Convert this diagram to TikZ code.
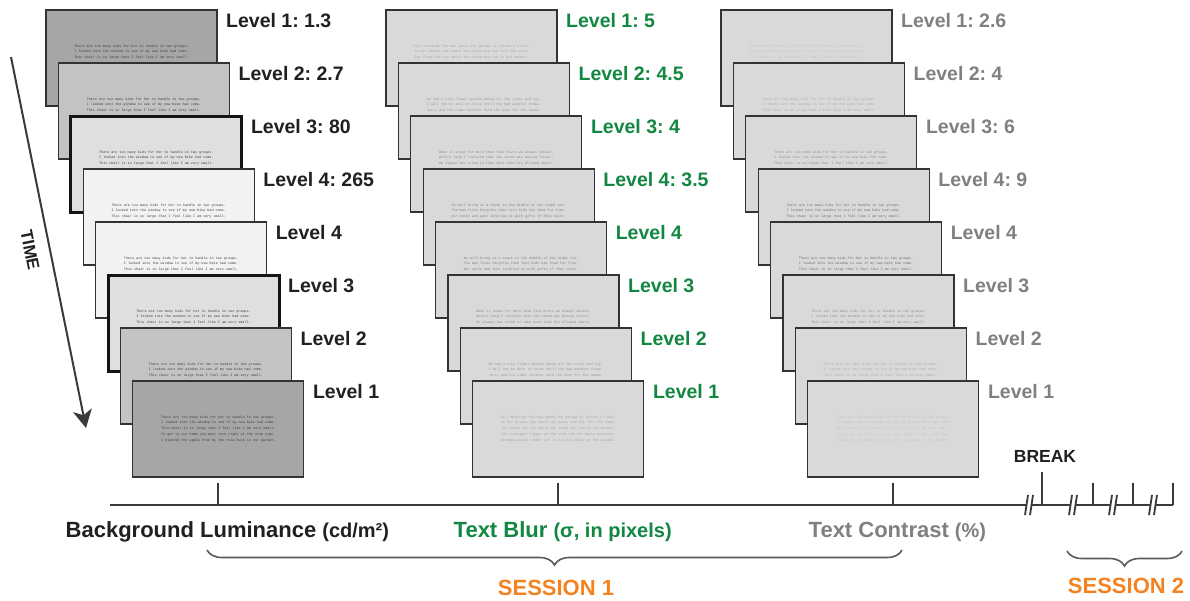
\documentclass[tikz,border=0pt]{standalone}
\usepackage{fontspec}
\setmainfont{Liberation Sans}
\newfontfamily\cardmono{Liberation Mono}
\usetikzlibrary{arrows.meta,decorations.pathreplacing,calc}
\frenchspacing

% palette
\definecolor{inkdark}{HTML}{231F20}
\definecolor{blurgreen}{RGB}{18,135,65}
\definecolor{contrastgrey}{HTML}{808080}
\definecolor{sessionorange}{HTML}{F58220}
\definecolor{axisgrey}{HTML}{3A3A3A}
\definecolor{bracegrey}{HTML}{5A5A5A}
\definecolor{edge}{HTML}{333333}
\definecolor{lumA}{HTML}{A8A5A5}
\definecolor{lumB}{HTML}{C4C3C3}
\definecolor{lumC}{HTML}{DFDFDF}
\definecolor{lumD}{HTML}{F2F2F2}
\definecolor{screen}{HTML}{D9D8DA}
\definecolor{lumtext}{HTML}{3A3A3A}
\definecolor{blurA}{HTML}{A4A4A4}
\definecolor{blurB}{HTML}{989898}
\definecolor{blurC}{HTML}{8A8A8A}
\definecolor{blurD}{HTML}{7E7E7E}
\definecolor{conA}{HTML}{C5C4C6}
\definecolor{conB}{HTML}{ACACAC}
\definecolor{conC}{HTML}{8C8C8C}
\definecolor{conD}{HTML}{6A6A6A}

% sentences shown on the screens
\newcommand\kidsthree{There are too many kids for her to handle in two groups.\\I looked into the window to see if my new bike had come.\\This chair is so large that I feel like I am very small.}
\newcommand\kidsfive{\kidsthree\\To get to our home you must turn right at the stop sign.\\I planted the apple tree by the rose bush in our garden.}
\newcommand\fallthree{Fall mornings the man opens the garage at eleven o'clock.\\In her dreams she heard the waves and she felt the sand.\\Joe fixed the toy while the young boy ran to his mother.}
\newcommand\fallfive{\fallthree\\The strongest jogger of the club ran the whole marathon.\\Grandpa would rather sit in his big chair by the window.}
\newcommand\gardenthree{We had a tiny flower garden among all the rocks and ivy.\\I will not be able to drive until the bad weather stops.\\Jerry and his older brother held the boat for the woman.}
\newcommand\snowthree{When it snows for more than five hours we always shovel.\\Before long I realized that the canoe was moving faster.\\He always has tried to take more than his allowed share.}
\newcommand\snackthree{He will bring us a snack in the middle of the night too.\\The man fixes bicycles then lets kids use them for free.\\Our uncle and aunt surprise us with gifts if they visit.}

\tikzset{
  card/.style={draw=edge, line width=1.1pt, minimum width=171pt, minimum height=96pt,
    inner sep=0pt, outer sep=0pt, anchor=north west},
  heavy/.style={draw=black!92, line width=3pt},
  cardtext/.style={font=\cardmono\fontsize{3.4}{5.8}\selectfont, align=center,
    inner sep=0pt, anchor=north},
  lvl/.style={font=\bfseries\fontsize{19.5}{20}\selectfont, anchor=base west, inner sep=0pt},
  axislabel/.style={font=\bfseries\fontsize{22}{22}\selectfont, anchor=base west, inner sep=0pt},
  session/.style={font=\bfseries\fontsize{22}{22}\selectfont, text=sessionorange, anchor=base, inner sep=0pt},
  axis/.style={draw=axisgrey, line width=2pt},
  slash/.style={draw=axisgrey, line width=1.8pt},
  bracestyle/.style={draw=bracegrey, line width=1.6pt,
    decorate, decoration={brace, mirror, amplitude=15pt}},
  timearrow/.style={draw=axisgrey, line width=2pt,
    -{Stealth[length=18pt, width=19pt, inset=5pt]}},
}

% one screen: name, x, y, fill, text colour, extra style, text
\newcommand\screencard[7]{%
  \node[card, fill=#4, #6] (#1) at (#2,#3) {};
  \node[cardtext, text=#5] (#1-txt) at ($(#1.north)+(0,34.5)$) {#7};
}
% level caption to the right of a screen: name, screen, colour, text
\newcommand\levellabel[4]{%
  \node[lvl, text=#3] (#1) at ($(#2.north east)+(9,17.5)$) {#4};
}
% axis break: two parallel slashes centred at x on the axis
\newcommand\axisbreak[2]{%
  \coordinate (#1) at (#2,505);
  \draw[slash] ($(#1)+(-4,10)$) -- ($(#1)+(-1,-10)$);
  \draw[slash] ($(#1)+(1,10)$) -- ($(#1)+(4,-10)$);
}

\begin{document}
\begin{tikzpicture}[x=1pt, y=-1pt]
\useasboundingbox (0,0) rectangle (1190,600);

% ---------- background luminance ----------
\foreach \i/\fc/\st/\txt/\lab in {
  0/lumA/{}/\kidsthree/{Level 1: 1.3},
  1/lumB/{}/\kidsthree/{Level 2: 2.7},
  2/lumC/heavy/\kidsthree/{Level 3: 80},
  3/lumD/{}/\kidsthree/{Level 4: 265},
  4/lumD/{}/\kidsthree/{Level 4},
  5/lumC/heavy/\kidsthree/{Level 3},
  6/lumB/{}/\kidsthree/{Level 2},
  7/lumA/{}/\kidsfive/{Level 1}}
{
  \pgfmathsetmacro\cx{46+12.4*\i}
  \pgfmathsetmacro\cy{10+53*\i}
  \screencard{lum\i}{\cx}{\cy}{\fc}{lumtext}{\st}{\txt}
  \levellabel{lumlab\i}{lum\i}{inkdark}{\lab}
}

% ---------- text blur ----------
\foreach \i/\tc/\txt/\lab in {
  0/blurA/\fallthree/{Level 1: 5},
  1/blurB/\gardenthree/{Level 2: 4.5},
  2/blurC/\snowthree/{Level 3: 4},
  3/blurD/\snackthree/{Level 4: 3.5},
  4/blurD/\snackthree/{Level 4},
  5/blurC/\snowthree/{Level 3},
  6/blurB/\gardenthree/{Level 2},
  7/blurA/\fallfive/{Level 1}}
{
  \pgfmathsetmacro\cx{386+12.4*\i}
  \pgfmathsetmacro\cy{10+53*\i}
  \screencard{blur\i}{\cx}{\cy}{screen}{\tc}{}{\txt}
  \levellabel{blurlab\i}{blur\i}{blurgreen}{\lab}
}

% ---------- text contrast ----------
\foreach \i/\tc/\txt/\lab in {
  0/conA/\kidsthree/{Level 1: 2.6},
  1/conB/\kidsthree/{Level 2: 4},
  2/conC/\kidsthree/{Level 3: 6},
  3/conD/\kidsthree/{Level 4: 9},
  4/conD/\kidsthree/{Level 4},
  5/conC/\kidsthree/{Level 3},
  6/conB/\kidsthree/{Level 2},
  7/conA/\kidsfive/{Level 1}}
{
  \pgfmathsetmacro\cx{721+12.4*\i}
  \pgfmathsetmacro\cy{10+53*\i}
  \screencard{con\i}{\cx}{\cy}{screen}{\tc}{}{\txt}
  \levellabel{conlab\i}{con\i}{contrastgrey}{\lab}
}

% ---------- time arrow ----------
\coordinate (timestart) at (11,57);
\coordinate (timeend) at (86,428);
\draw[timearrow] (timestart) -- (timeend);
\node[font=\bfseries\fontsize{17}{17}\selectfont, text=inkdark, rotate=-78.6, inner sep=0pt]
  (timelab) at (30,250) {TIME};

% ---------- session time line ----------
\coordinate (axstart) at (110,505);
\coordinate (axend) at (1173,505);
\axisbreak{brkA}{1029}
\axisbreak{brkB}{1073}
\axisbreak{brkC}{1113}
\axisbreak{brkD}{1153}
\draw[axis] (axstart) -- ($(brkA)+(-2.5,0)$);
\draw[axis] ($(brkA)+(2.5,0)$) -- ($(brkB)+(-2.5,0)$);
\draw[axis] ($(brkB)+(2.5,0)$) -- ($(brkC)+(-2.5,0)$);
\draw[axis] ($(brkC)+(2.5,0)$) -- ($(brkD)+(-2.5,0)$);
\draw[axis] ($(brkD)+(2.5,0)$) -- (axend);

% ticks under each block of screens
\foreach \c in {lum7, blur7, con7} {
  \coordinate (\c-tick) at (\c.south |- axstart);
  \draw[axis] (\c-tick) -- ++(0,-22);
}
\coordinate (breaktick) at (1042,505);
\draw[axis] (breaktick) -- ++(0,-33);
\foreach \x in {1093,1133} {
  \draw[axis] (\x,505) -- ++(0,-22);
}
\draw[axis] (axend) -- ++(0,-22);

\node[font=\bfseries\fontsize{17.5}{18}\selectfont, text=inkdark, anchor=base, inner sep=0pt]
  (breaklab) at (1045,462) {BREAK};

% ---------- factor names ----------
\node[axislabel, text=inkdark] (lumname) at (65.5,537)
  {Background Luminance {\fontsize{20}{20}\selectfont (cd/m²)}};
\node[axislabel, text=blurgreen] (blurname) at (453.5,537)
  {Text Blur {\fontsize{20}{20}\selectfont (σ, in pixels)}};
\node[axislabel, text=contrastgrey] (conname) at (808.5,537)
  {Text Contrast {\fontsize{20}{20}\selectfont (\%)}};

% ---------- sessions ----------
\coordinate (sesAleft) at (207,550);
\coordinate (sesAright) at (902,550);
\coordinate (sesBleft) at (1067,551);
\coordinate (sesBright) at (1182,551);
\draw[bracestyle] (sesAleft) -- (sesAright);
\draw[bracestyle] (sesBleft) -- (sesBright);
\node[session] (sesAlab) at (556,595) {SESSION 1};
\node[session] (sesBlab) at (1126,593) {SESSION 2};

\end{tikzpicture}
\end{document}
